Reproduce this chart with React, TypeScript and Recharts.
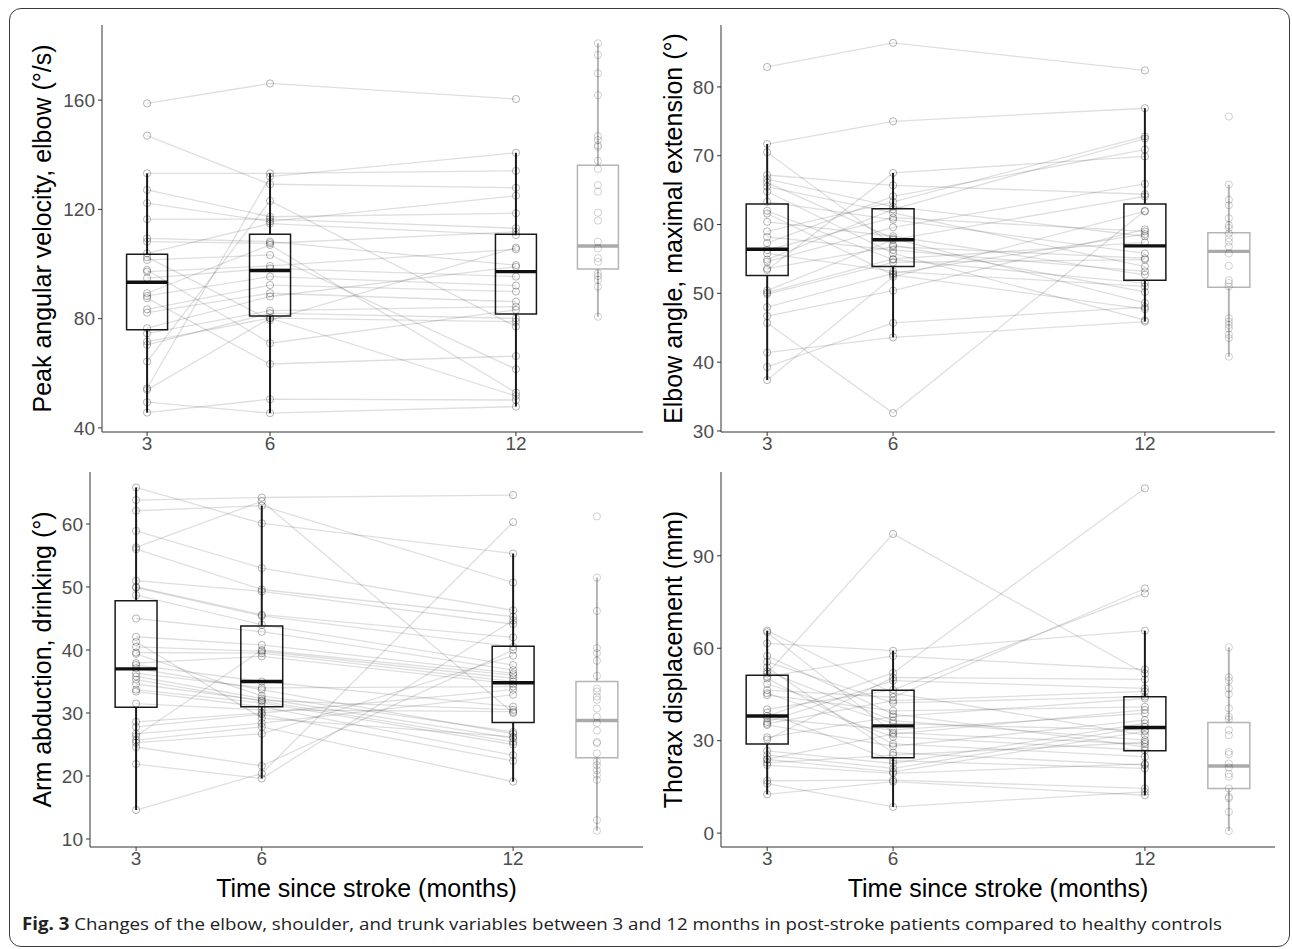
import React from 'react';
import { ComposedChart, Scatter, XAxis, YAxis, ReferenceArea, ReferenceLine } from 'recharts';

const TIMES = [3, 6, 12];
const CONTROL_X = 14;
const X_TICK_LABELS = ['3', '6', '12'];

// Panel A: peak angular velocity, elbow (°/s) — patient i is index i in each array
const VEL_3M = [158.8, 147.0, 133.2, 127.1, 122.3, 116.4, 109.4, 108.2, 103.9, 102.5, 101.5, 97.8, 97.2, 94.8, 89.3, 88.3, 87.5, 83.4, 82.2, 76.5, 74.6, 71.6, 70.4, 64.3, 54.5, 53.9, 49.4, 45.6];
const VEL_6M = [166.1, 129.2, 133.2, 117.3, 115.6, 116.4, 108.2, 107.6, 114.8, 79.5, 103.3, 71.0, 99.3, 98.4, 107.0, 95.4, 63.4, 92.3, 89.3, 88.1, 82.9, 80.2, 82.0, 123.1, 132.0, 80.2, 45.4, 50.5];
const VEL_12M = [160.4, 127.9, 134.1, 118.6, 125.0, 113.1, 99.6, 111.8, 110.6, 106.0, 61.5, 83.2, 105.4, 95.4, 52.9, 92.1, 66.3, 89.9, 86.2, 99.0, 84.4, 78.9, 80.1, 77.1, 140.7, 51.7, 47.8, 50.2];
const VEL_CTRL = [180.8, 176.5, 169.8, 161.8, 146.8, 145.4, 143.5, 142.9, 137.8, 134.8, 128.9, 126.5, 118.8, 115.9, 108.2, 105.7, 102.1, 100.8, 96.6, 95.6, 94.2, 91.7, 80.7];
// box stats: [lower whisker, q1, median, q3, upper whisker]
const VEL_BOX_3M = [45.6, 75.9, 93.3, 103.6, 133.2];
const VEL_BOX_6M = [45.4, 81.0, 97.6, 110.9, 133.2];
const VEL_BOX_12M = [47.8, 81.7, 97.2, 110.9, 140.7];
const VEL_BOX_CTRL = [80.7, 98.2, 106.6, 136.2, 180.8];
const VEL_TICKS = [40, 80, 120, 160];

// Panel B: elbow angle, maximal extension (°)
const EXT_3M = [82.9, 71.7, 70.5, 67.2, 66.6, 66.1, 65.5, 64.8, 63.3, 62.0, 61.6, 60.4, 59.0, 58.2, 57.3, 56.3, 55.8, 54.9, 54.6, 53.6, 53.4, 50.4, 50.1, 49.9, 48.0, 46.7, 45.7, 41.4, 39.3, 37.4];
const EXT_6M = [86.4, 75.0, 57.0, 65.7, 62.6, 58.0, 61.7, 55.8, 60.7, 54.9, 52.7, 58.3, 63.3, 56.3, 64.1, 61.0, 53.2, 62.2, 59.6, 56.8, 67.5, 57.8, 55.0, 54.5, 52.9, 50.4, 32.6, 43.6, 45.7, 52.4];
const EXT_12M = [82.4, 76.9, 50.2, 64.4, 58.3, 48.6, 53.9, 46.1, 55.8, 51.5, 47.7, 52.7, 72.8, 53.2, 70.9, 59.0, 51.0, 72.5, 65.9, 55.1, 69.9, 64.1, 57.4, 54.9, 58.6, 59.3, 62.0, 45.9, 48.0, 61.9];
const EXT_CTRL = [75.7, 65.8, 63.6, 62.8, 60.9, 59.9, 59.5, 58.7, 58.0, 57.5, 56.8, 55.8, 54.0, 51.9, 51.5, 51.0, 46.4, 45.9, 45.4, 44.9, 44.0, 43.5, 40.8];
const EXT_BOX_3M = [37.4, 52.6, 56.4, 63.0, 71.7];
const EXT_BOX_6M = [43.6, 53.9, 57.8, 62.3, 67.5];
const EXT_BOX_12M = [45.9, 51.9, 56.9, 63.0, 76.9];
const EXT_BOX_CTRL = [40.8, 50.9, 56.1, 58.8, 65.8];
const EXT_TICKS = [30, 40, 50, 60, 70, 80];

// Panel C: arm abduction, drinking (°)
const ABD_3M = [65.8, 63.8, 62.1, 58.9, 56.3, 56.0, 51.0, 50.0, 49.9, 48.7, 45.0, 42.1, 41.3, 40.5, 39.6, 39.4, 37.9, 37.6, 37.1, 36.3, 35.8, 35.3, 34.6, 33.7, 33.4, 31.5, 28.6, 27.8, 26.7, 26.3, 25.7, 25.3, 24.6, 21.9, 14.6];
const ABD_6M = [60.1, 64.2, 62.9, 53.0, 63.6, 49.6, 49.3, 45.6, 45.4, 44.0, 42.9, 40.8, 29.2, 39.8, 39.5, 32.7, 39.0, 35.0, 33.7, 34.0, 32.3, 31.9, 32.0, 31.6, 31.0, 30.5, 30.0, 29.8, 28.4, 40.0, 27.8, 26.7, 21.6, 19.6, 20.4];
const ABD_12M = [55.3, 64.6, 50.7, 46.3, 30.0, 45.3, 44.1, 42.0, 40.5, 37.6, 36.8, 36.3, 26.2, 35.5, 35.0, 27.0, 34.6, 31.0, 26.7, 34.2, 26.0, 25.4, 30.5, 25.0, 23.3, 30.2, 33.7, 22.4, 32.9, 36.0, 19.1, 39.1, 40.0, 44.7, 60.3];
const ABD_CTRL = [61.2, 51.5, 46.2, 40.3, 39.5, 38.3, 35.9, 33.9, 33.4, 32.6, 32.1, 30.7, 29.4, 28.4, 27.2, 25.4, 25.2, 23.6, 22.3, 21.7, 20.9, 20.2, 19.4, 13.0, 11.3];
const ABD_BOX_3M = [14.6, 30.9, 37.0, 47.8, 65.8];
const ABD_BOX_6M = [19.6, 31.0, 35.0, 43.8, 62.9];
const ABD_BOX_12M = [19.1, 28.5, 34.8, 40.6, 55.3];
const ABD_BOX_CTRL = [11.3, 22.9, 28.8, 35.0, 51.5];
const ABD_TICKS = [10, 20, 30, 40, 50, 60];

// Panel D: thorax displacement (mm)
const THX_3M = [65.7, 65.2, 61.6, 57.5, 55.6, 53.8, 52.5, 51.8, 50.8, 50.2, 48.4, 46.4, 45.4, 44.8, 40.2, 39.1, 38.0, 37.2, 36.1, 35.5, 35.1, 31.1, 30.4, 26.7, 25.3, 24.0, 23.9, 22.8, 22.1, 17.0, 16.1, 12.6];
const THX_6M = [45.4, 32.6, 59.2, 38.6, 42.3, 26.1, 36.5, 97.1, 57.5, 29.0, 35.6, 44.1, 31.3, 39.7, 46.5, 23.5, 52.0, 33.5, 49.5, 43.0, 28.2, 37.8, 50.5, 22.6, 21.0, 32.1, 19.9, 25.3, 19.4, 17.2, 8.5, 16.7];
const THX_12M = [31.8, 28.9, 65.7, 28.0, 44.3, 22.1, 30.2, 51.8, 53.1, 24.8, 33.4, 79.4, 26.9, 41.0, 77.8, 21.0, 111.9, 38.9, 47.0, 46.0, 36.7, 43.7, 49.9, 35.6, 34.5, 40.0, 33.0, 29.5, 22.5, 14.5, 13.4, 12.3];
const THX_CTRL = [60.3, 50.6, 49.5, 47.0, 45.1, 40.5, 37.8, 36.9, 33.4, 31.8, 26.4, 25.6, 22.6, 21.3, 19.2, 18.3, 14.5, 11.8, 11.3, 6.9, 0.7];
const THX_BOX_3M = [12.6, 28.9, 38.0, 51.2, 65.7];
const THX_BOX_6M = [8.5, 24.5, 34.8, 46.4, 59.2];
const THX_BOX_12M = [12.3, 26.7, 34.3, 44.3, 65.7];
const THX_BOX_CTRL = [0.7, 14.5, 21.8, 35.9, 60.3];
const THX_TICKS = [0, 30, 60, 90];

const X_TITLE = 'Time since stroke (months)';
const CAPTION_BOLD = 'Fig. 3';
const CAPTION = 'Changes of the elbow, shoulder, and trunk variables between 3 and 12 months in post-stroke patients compared to healthy controls';

const FONT = '"Liberation Sans", Arial, Helvetica, sans-serif';
const TICK = { fill: '#4d4d4d', fontSize: 19, fontFamily: FONT };
const BOX_HALF = 0.5;

const panels = [
  {
    key: 'vel', title: 'Peak angular velocity, elbow (°/s)',
    t3: VEL_3M, t6: VEL_6M, t12: VEL_12M, ctrl: VEL_CTRL,
    boxes: [VEL_BOX_3M, VEL_BOX_6M, VEL_BOX_12M], ctrlBox: VEL_BOX_CTRL,
    domain: [38.5, 187.5], ticks: VEL_TICKS,
    left: 0, top: 0, yWidth: 102, xHeight: 30, margin: { top: 25, right: 3, bottom: 8, left: 0 },
    titleDx: -9, xTitle: false,
  },
  {
    key: 'ext', title: 'Elbow angle, maximal extension (°)',
    t3: EXT_3M, t6: EXT_6M, t12: EXT_12M, ctrl: EXT_CTRL,
    boxes: [EXT_BOX_3M, EXT_BOX_6M, EXT_BOX_12M], ctrlBox: EXT_BOX_CTRL,
    domain: [29.85, 89.0], ticks: EXT_TICKS,
    left: 646, top: 0, yWidth: 75, xHeight: 30, margin: { top: 25, right: 17, bottom: 8, left: 0 },
    titleDx: -10.5, xTitle: false,
  },
  {
    key: 'abd', title: 'Arm abduction, drinking (°)',
    t3: ABD_3M, t6: ABD_6M, t12: ABD_12M, ctrl: ABD_CTRL,
    boxes: [ABD_BOX_3M, ABD_BOX_6M, ABD_BOX_12M], ctrlBox: ABD_BOX_CTRL,
    domain: [8.73, 68.25], ticks: ABD_TICKS,
    left: 0, top: 440, yWidth: 90, xHeight: 55, margin: { top: 32, right: 3, bottom: 8, left: 0 },
    titleDx: -3, xTitle: true,
  },
  {
    key: 'thx', title: 'Thorax displacement (mm)',
    t3: THX_3M, t6: THX_6M, t12: THX_12M, ctrl: THX_CTRL,
    boxes: [THX_BOX_3M, THX_BOX_6M, THX_BOX_12M], ctrlBox: THX_BOX_CTRL,
    domain: [-4.5, 117.2], ticks: THX_TICKS,
    left: 646, top: 440, yWidth: 75, xHeight: 55, margin: { top: 32, right: 17, bottom: 8, left: 0 },
    titleDx: -10.5, xTitle: true,
  },
];

const patientDot = (p: any) => (
  <circle cx={p.cx} cy={p.cy} r={3.6} fill="none" stroke="rgba(0,0,0,0.32)" strokeWidth={0.9} />
);
const ctrlDot = (p: any) => (
  <circle cx={p.cx} cy={p.cy} r={3.6} fill="none" stroke="rgba(0,0,0,0.2)" strokeWidth={0.9} />
);

function renderBox(x: number, s: number[], color: string, medColor: string, k: string) {
  const [lo, q1, med, q3, hi] = s;
  return [
    <ReferenceLine key={k + 'wl'} segment={[{ x, y: lo }, { x, y: q1 }]} stroke={color} strokeWidth={2} ifOverflow="visible" />,
    <ReferenceLine key={k + 'wh'} segment={[{ x, y: q3 }, { x, y: hi }]} stroke={color} strokeWidth={2} ifOverflow="visible" />,
    <ReferenceArea key={k + 'b'} x1={x - BOX_HALF} x2={x + BOX_HALF} y1={q1} y2={q3} fill="none" fillOpacity={0} stroke={color} strokeWidth={1.5} strokeOpacity={1} ifOverflow="visible" />,
    <ReferenceLine key={k + 'm'} segment={[{ x: x - BOX_HALF, y: med }, { x: x + BOX_HALF, y: med }]} stroke={medColor} strokeWidth={3.4} ifOverflow="visible" />,
  ];
}

function Panel({ cfg }: { cfg: any }) {
  const patients = cfg.t3.map((v: number, i: number) => [
    { x: TIMES[0], y: v },
    { x: TIMES[1], y: cfg.t6[i] },
    { x: TIMES[2], y: cfg.t12[i] },
  ]);
  const ctrlPts = cfg.ctrl.map((v: number) => ({ x: CONTROL_X, y: v }));
  return (
    <div style={{ position: 'absolute', left: cfg.left, top: cfg.top }}>
      <ComposedChart width={646} height={470} margin={cfg.margin}>
        <XAxis
          type="number" dataKey="x" domain={[1.9, 15.1]} ticks={TIMES} allowDataOverflow
          tickFormatter={(v: number) => X_TICK_LABELS[TIMES.indexOf(v)]}
          tick={TICK} tickSize={4} tickMargin={1} stroke="#333" height={cfg.xHeight}
          label={cfg.xTitle ? { value: X_TITLE, position: 'center', dy: 13.5, fill: '#000', fontSize: 25, fontFamily: FONT } : undefined}
        />
        <YAxis
          type="number" dataKey="y" domain={cfg.domain} ticks={cfg.ticks} allowDataOverflow
          tick={TICK} tickSize={4} tickMargin={3} stroke="#333" width={cfg.yWidth}
          label={{ value: cfg.title, angle: -90, position: 'center', dx: cfg.titleDx, fill: '#000', fontSize: 25, fontFamily: FONT }}
        />
        {patients.map((d: any, i: number) => (
          <Scatter key={'p' + i} data={d} line={{ stroke: 'rgba(0,0,0,0.13)', strokeWidth: 1.3 }} shape={patientDot} isAnimationActive={false} />
        ))}
        {cfg.boxes.map((b: number[], i: number) => renderBox(TIMES[i], b, '#1a1a1a', '#111', cfg.key + i))}
        {renderBox(CONTROL_X, cfg.ctrlBox, '#b5b5b5', '#aaaaaa', cfg.key + 'c')}
        <Scatter data={ctrlPts} shape={ctrlDot} isAnimationActive={false} />
      </ComposedChart>
    </div>
  );
}

export default function App() {
  return (
    <div style={{ position: 'absolute', left: 0, top: 0, width: 1292, height: 949, background: '#fff' }}>
      <div style={{ position: 'absolute', left: 9, top: 8, width: 1281, height: 939, border: '1.5px solid #3a3a3a', borderRadius: 12, boxSizing: 'border-box' }} />
      {panels.map((p) => <Panel key={p.key} cfg={p} />)}
      <svg width={1292} height={949} style={{ position: 'absolute', left: 0, top: 0, pointerEvents: 'none' }}>
        <text x={22} y={930} fontFamily='"Open Sans", sans-serif' fontSize={17} fill="#222" textLength={1200} lengthAdjust="spacingAndGlyphs">
          <tspan fontWeight="bold">{CAPTION_BOLD}</tspan>{' '}{CAPTION}
        </text>
      </svg>
    </div>
  );
}
